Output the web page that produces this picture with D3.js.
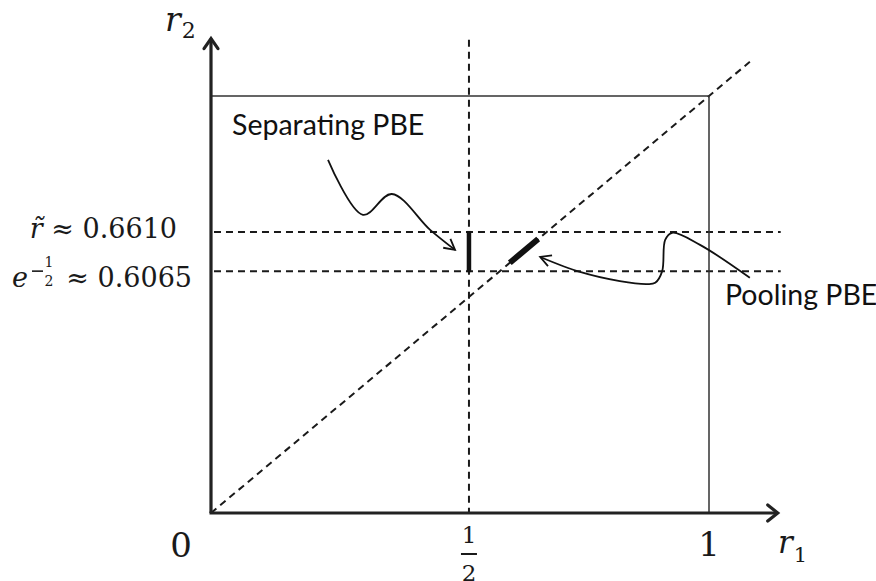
<!DOCTYPE html>
<html>
<head>
<meta charset="utf-8">
<script src="https://cdn.jsdelivr.net/npm/d3@7"></script>
<style>
  html, body { margin: 0; padding: 0; background: #fff; }
  svg { display: block; }
  .math { font-family: "DejaVu Serif", "Liberation Serif", serif; fill: #1a1a1a; }
  .note { font-family: Lato, "Open Sans", sans-serif; fill: #111; }
</style>
</head>
<body>
<div id="chart"></div>
<script>
// schematic values (as drawn, not to exact scale)
const r1Ticks = [0, 0.518, 1];
const r1TickLabels = ['0', '1/2', '1'];
const r2Levels = [0.674, 0.580];            // r~ and e^-1/2 as drawn
const r2LevelLabels = ['0.6610', '0.6065'];
const separatingR1 = 0.518;
const separatingR2 = [0.580, 0.674];
const poolingR = [0.600, 0.657];            // on the r1 = r2 diagonal
const diagonalEnd = 1.082;
const axisEnd = 1.14;

// callout curves, in (r1, r2) units
const separatingCurve = [[0.235, 0.847], [0.305, 0.715], [0.363, 0.765], [0.440, 0.679], [0.490, 0.631]];
const poolingCurve = [[1.082, 0.564], [0.982, 0.643], [0.926, 0.672], [0.912, 0.655], [0.906, 0.580],
                      [0.892, 0.552], [0.876, 0.549], [0.821, 0.556], [0.741, 0.578], [0.661, 0.614]];

const W = 876, H = 581;
const ink = '#1a1a1a';

const svg = d3.select('#chart').append('svg')
  .attr('width', W).attr('height', H)
  .attr('viewBox', `0 0 ${W} ${H}`);

const x = d3.scaleLinear().domain([0, 1]).range([211, 709]);
const y = d3.scaleLinear().domain([0, 1]).range([513, 96]);

// dashed guides
const dash = '7 5';
svg.selectAll('.hguide')
  .data(r2Levels)
  .join('line')
  .attr('x1', x(0.006)).attr('x2', x(axisEnd + 0.004))
  .attr('y1', d => y(d)).attr('y2', d => y(d))
  .attr('stroke', ink).attr('stroke-width', 2).attr('stroke-dasharray', dash);

svg.append('line')
  .attr('x1', x(separatingR1)).attr('x2', x(separatingR1))
  .attr('y1', y(axisEnd - 0.005)).attr('y2', y(0))
  .attr('stroke', ink).attr('stroke-width', 2).attr('stroke-dasharray', dash);

svg.append('line')
  .attr('x1', x(0)).attr('y1', y(0))
  .attr('x2', x(diagonalEnd)).attr('y2', y(diagonalEnd))
  .attr('stroke', ink).attr('stroke-width', 2).attr('stroke-dasharray', dash);

// unit box
svg.append('path')
  .attr('d', `M${x(0)},${y(1)}H${x(1)}V${y(0)}`)
  .attr('fill', 'none').attr('stroke', '#333').attr('stroke-width', 1.5);

// axes
svg.append('line')
  .attr('x1', x(0)).attr('y1', y(0)).attr('x2', x(0)).attr('y2', y(axisEnd) + 1)
  .attr('stroke', '#222').attr('stroke-width', 3.2);
svg.append('line')
  .attr('x1', x(0) - 1.5).attr('y1', y(0)).attr('x2', x(axisEnd) - 1).attr('y2', y(0))
  .attr('stroke', '#222').attr('stroke-width', 3.2);

const tipY = [x(0), y(axisEnd) + 1], tipX = [x(axisEnd) - 1, y(0)];
svg.append('path')
  .attr('d', `M${tipY[0] - 7},${tipY[1] + 10}L${tipY[0]},${tipY[1]}L${tipY[0] + 7},${tipY[1] + 10}`)
  .attr('fill', 'none').attr('stroke', '#222').attr('stroke-width', 3.2)
  .attr('stroke-linecap', 'round').attr('stroke-linejoin', 'miter');
svg.append('path')
  .attr('d', `M${tipX[0] - 10},${tipX[1] - 8}L${tipX[0]},${tipX[1]}L${tipX[0] - 10},${tipX[1] + 8}`)
  .attr('fill', 'none').attr('stroke', '#222').attr('stroke-width', 3.2)
  .attr('stroke-linecap', 'round').attr('stroke-linejoin', 'miter');

// equilibrium segments
svg.append('line')
  .attr('x1', x(separatingR1)).attr('x2', x(separatingR1))
  .attr('y1', y(separatingR2[0]) + 1).attr('y2', y(separatingR2[1]) - 1)
  .attr('stroke', '#111').attr('stroke-width', 4.5);

svg.append('line')
  .attr('x1', x(poolingR[0])).attr('y1', y(poolingR[0]))
  .attr('x2', x(poolingR[1])).attr('y2', y(poolingR[1]))
  .attr('stroke', '#111').attr('stroke-width', 6);

// callout curves with open arrowheads
const curve = d3.line()
  .x(d => x(d[0])).y(d => y(d[1]))
  .curve(d3.curveCatmullRom.alpha(0.5));

function callout(points) {
  svg.append('path')
    .attr('d', curve(points))
    .attr('fill', 'none').attr('stroke', '#111').attr('stroke-width', 1.8);
  const n = points.length;
  const tx = x(points[n - 1][0]), ty = y(points[n - 1][1]);
  const px = x(points[n - 2][0]), py = y(points[n - 2][1]);
  const a = Math.atan2(ty - py, tx - px);
  const len = 12, spread = 0.5;
  const p1 = [tx - len * Math.cos(a - spread), ty - len * Math.sin(a - spread)];
  const p2 = [tx - len * Math.cos(a + spread), ty - len * Math.sin(a + spread)];
  svg.append('path')
    .attr('d', `M${p1}L${tx},${ty}L${p2}`)
    .attr('fill', 'none').attr('stroke', '#111').attr('stroke-width', 1.8);
}
callout(separatingCurve);
callout(poolingCurve);

svg.append('text').attr('class', 'note')
  .attr('x', 232).attr('y', 135).attr('font-size', 28.5)
  .text('Separating PBE');
svg.append('text').attr('class', 'note')
  .attr('x', 725).attr('y', 305).attr('font-size', 28.5)
  .text('Pooling PBE');

// r1 tick labels
svg.append('text').attr('class', 'math')
  .attr('x', x(r1Ticks[0]) - 30).attr('y', 557)
  .attr('text-anchor', 'middle').attr('font-size', 34)
  .text(r1TickLabels[0]);
svg.append('text').attr('class', 'math')
  .attr('x', x(r1Ticks[2])).attr('y', 556)
  .attr('text-anchor', 'middle').attr('font-size', 34)
  .text(r1TickLabels[2]);

const [num, den] = r1TickLabels[1].split('/');
const half = svg.append('g').attr('transform', `translate(${x(r1Ticks[1])},0)`);
half.append('text').attr('class', 'math')
  .attr('y', 543).attr('text-anchor', 'middle').attr('font-size', 23).text(num);
half.append('line')
  .attr('x1', -8).attr('x2', 8).attr('y1', 554).attr('y2', 554)
  .attr('stroke', ink).attr('stroke-width', 2);
half.append('text').attr('class', 'math')
  .attr('y', 581).attr('text-anchor', 'middle').attr('font-size', 23).text(den);

// axis titles
const r1t = svg.append('text').attr('class', 'math').attr('x', 778).attr('y', 553).attr('font-size', 31);
r1t.append('tspan').attr('font-style', 'italic').text('r');
r1t.append('tspan').attr('font-size', 21).attr('dy', 9).attr('dx', 1).text('1');

const r2t = svg.append('text').attr('class', 'math').attr('x', 165).attr('y', 31).attr('font-size', 33);
r2t.append('tspan').attr('font-style', 'italic').text('r');
r2t.append('tspan').attr('font-size', 22).attr('dy', 7).attr('dx', 1).text('2');

// level labels
const l1 = svg.append('text').attr('class', 'math')
  .attr('x', 177).attr('y', y(r2Levels[0]) + 6).attr('text-anchor', 'end').attr('font-size', 27);
l1.append('tspan').attr('font-style', 'italic').text('r\u0303');
l1.append('tspan').text(' \u2248 ' + r2LevelLabels[0]);

svg.append('text').attr('class', 'math')
  .attr('x', 192).attr('y', y(r2Levels[1]) + 16).attr('text-anchor', 'end').attr('font-size', 27)
  .text('\u2248 ' + r2LevelLabels[1]);
const e = svg.append('g').attr('transform', `translate(12,${y(r2Levels[1]) + 16})`);
e.append('text').attr('class', 'math').attr('font-style', 'italic').attr('font-size', 27).text('e');
e.append('line').attr('x1', 20).attr('x2', 31).attr('y1', -16).attr('y2', -16)
  .attr('stroke', ink).attr('stroke-width', 1.6);
e.append('text').attr('class', 'math').attr('x', 37).attr('y', -20)
  .attr('text-anchor', 'middle').attr('font-size', 14).text('1');
e.append('text').attr('class', 'math').attr('x', 37).attr('y', -1)
  .attr('text-anchor', 'middle').attr('font-size', 14).text('2');
</script>
</body>
</html>
